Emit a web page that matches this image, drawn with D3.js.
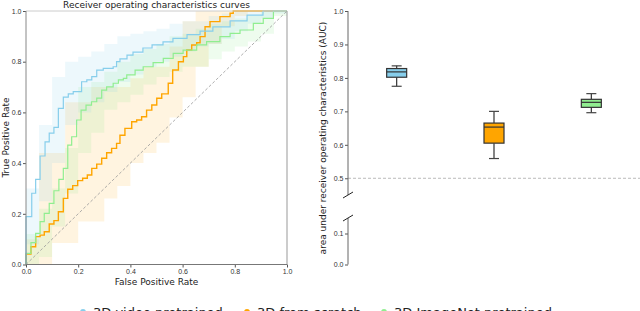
<!doctype html>
<html lang="en">
<head>
    <meta charset="UTF-8">
    <title>roc-auc</title>
    <style>
        body { margin: 0; background: #fff; }
        svg { font-family: "DejaVu Sans", sans-serif; }
        .tick text { font-size: 7px; fill: #333; }
        .tick line { stroke: #555; }
        .lbl { font-size: 9px; fill: #222; }
    </style>
</head>
<body>
<svg width="640" height="311"></svg>

<script src="https://d3js.org/d3.v7.min.js"></script>
<script>
  // ---- ROC mean curves (fpr, tpr), step after each point
  const blueFpr = [0, 0, 0.022, 0.037, 0.054, 0.073, 0.089, 0.107, 0.124, 0.143, 0.162, 0.181, 0.213, 0.233, 0.252, 0.271, 0.296, 0.334, 0.347, 0.360, 0.387, 0.410, 0.448, 0.483, 0.525, 0.563, 0.617, 0.667, 0.716, 0.782, 0.847, 0.908, 1.0]
  const blueTpr = [0, 0.189, 0.281, 0.336, 0.428, 0.484, 0.518, 0.541, 0.616, 0.660, 0.673, 0.682, 0.721, 0.728, 0.741, 0.767, 0.774, 0.780, 0.800, 0.811, 0.826, 0.838, 0.854, 0.866, 0.878, 0.892, 0.907, 0.921, 0.937, 0.961, 0.984, 1.0, 1.0]

  const greenFpr = [0, 0, 0.019, 0.037, 0.054, 0.070, 0.089, 0.107, 0.126, 0.143, 0.160, 0.175, 0.194, 0.211, 0.230, 0.251, 0.271, 0.290, 0.309, 0.334, 0.354, 0.373, 0.386, 0.418, 0.449, 0.487, 0.526, 0.564, 0.602, 0.654, 0.692, 0.743, 0.782, 0.820, 0.871, 0.909, 0.948, 1.0]
  const greenTpr = [0, 0.044, 0.086, 0.123, 0.169, 0.202, 0.241, 0.291, 0.336, 0.379, 0.471, 0.504, 0.570, 0.609, 0.629, 0.642, 0.656, 0.688, 0.701, 0.715, 0.728, 0.734, 0.748, 0.767, 0.780, 0.796, 0.813, 0.833, 0.846, 0.866, 0.879, 0.899, 0.912, 0.925, 0.951, 0.971, 1.0, 1.0]

  const orangeFpr = [0, 0, 0.019, 0.037, 0.054, 0.070, 0.089, 0.107, 0.124, 0.143, 0.160, 0.179, 0.198, 0.217, 0.235, 0.252, 0.271, 0.290, 0.309, 0.328, 0.347, 0.360, 0.379, 0.405, 0.424, 0.443, 0.462, 0.482, 0.501, 0.520, 0.545, 0.562, 0.584, 0.603, 0.616, 0.635, 0.654, 0.667, 0.686, 0.705, 0.743, 0.782, 0.794, 1.0]
  const orangeTpr = [0, 0.041, 0.070, 0.110, 0.116, 0.129, 0.160, 0.173, 0.208, 0.261, 0.297, 0.311, 0.331, 0.340, 0.353, 0.379, 0.396, 0.419, 0.441, 0.458, 0.478, 0.510, 0.537, 0.563, 0.570, 0.583, 0.609, 0.629, 0.656, 0.673, 0.715, 0.767, 0.800, 0.820, 0.846, 0.866, 0.875, 0.899, 0.938, 0.958, 0.978, 0.991, 1.0, 1.0]

  // ---- std bands on a coarse fpr grid
  const bandFpr = [0, 0.05, 0.10, 0.15, 0.20, 0.25, 0.30, 0.35, 0.40, 0.45, 0.50, 0.55, 0.60, 0.65, 0.70, 0.75, 0.80, 0.85, 0.90, 0.95, 1.0]
  const blueLo = [0.08, 0.25, 0.40, 0.55, 0.60, 0.64, 0.68, 0.72, 0.75, 0.78, 0.80, 0.82, 0.84, 0.86, 0.87, 0.89, 0.92, 0.95, 0.97, 0.99, 1.0]
  const blueHi = [0.30, 0.55, 0.74, 0.80, 0.82, 0.84, 0.87, 0.90, 0.91, 0.92, 0.93, 0.95, 0.96, 0.96, 0.98, 0.99, 1.0, 1.0, 1.0, 1.0, 1.0]
  const greenLo = [0.0, 0.03, 0.15, 0.28, 0.44, 0.52, 0.61, 0.64, 0.67, 0.71, 0.74, 0.76, 0.78, 0.78, 0.81, 0.84, 0.86, 0.88, 0.91, 0.98, 1.0]
  const greenHi = [0.12, 0.22, 0.30, 0.46, 0.70, 0.72, 0.76, 0.80, 0.83, 0.85, 0.87, 0.90, 0.91, 0.93, 0.95, 0.96, 0.97, 0.98, 1.0, 1.0, 1.0]
  const orangeLo = [0.0, 0.0, 0.085, 0.085, 0.17, 0.17, 0.26, 0.31, 0.40, 0.44, 0.48, 0.58, 0.66, 0.78, 0.87, 0.94, 0.98, 1.0, 1.0, 1.0, 1.0]
  const orangeHi = [0.10, 0.44, 0.44, 0.64, 0.64, 0.70, 0.70, 0.70, 0.735, 0.78, 0.78, 0.86, 0.96, 1.0, 1.0, 1.0, 1.0, 1.0, 1.0, 1.0, 1.0]

  // ---- AUC box stats: whisker low, q1, median, q3, whisker high
  const models = ['3D video pretrained', '3D from scratch', '3D ImageNet pretrained']
  const colors = ['#87ceeb', '#ffa500', '#90ee90']
  const whiskLo = [0.775, 0.559, 0.696]
  const q1 = [0.802, 0.605, 0.712]
  const median = [0.818, 0.653, 0.727]
  const q3 = [0.828, 0.665, 0.736]
  const whiskHi = [0.836, 0.700, 0.753]

  const svg = d3.select('svg')

  // ================= left: ROC =================
  const x = d3.scaleLinear().domain([0, 1]).range([26, 287])
  const y = d3.scaleLinear().domain([0, 1]).range([264.5, 11])
  const ticks = [0, 0.2, 0.4, 0.6, 0.8, 1.0]

  const left = svg.append('g')

  const area = d3.area()
    .curve(d3.curveStepAfter)
    .x(d => x(d[0])).y0(d => y(d[1])).y1(d => y(d[2]))
  const bands = [
    [orangeLo, orangeHi, colors[1], 0.12],
    [greenLo, greenHi, colors[2], 0.15],
    [blueLo, blueHi, colors[0], 0.15]
  ]
  bands.forEach(([lo, hi, c, a]) => {
    left.append('path')
      .datum(bandFpr.map((f, i) => [f, lo[i], hi[i]]))
      .attr('d', area)
      .attr('fill', c)
      .attr('fill-opacity', a)
  })

  left.append('line')
    .attr('x1', x(0)).attr('y1', y(0)).attr('x2', x(1)).attr('y2', y(1))
    .attr('stroke', '#999').attr('stroke-width', 0.8).attr('stroke-dasharray', '3,2')

  const line = d3.line().curve(d3.curveStepAfter).x(d => x(d[0])).y(d => y(d[1]))
  const curves = [
    [orangeFpr, orangeTpr, colors[1], 1.4],
    [greenFpr, greenTpr, colors[2], 1.2],
    [blueFpr, blueTpr, colors[0], 1.2]
  ]
  curves.forEach(([fx, ty, c, w]) => {
    left.append('path')
      .datum(fx.map((f, i) => [f, ty[i]]))
      .attr('d', line)
      .attr('fill', 'none')
      .attr('stroke', c)
      .attr('stroke-width', w)
  })

  left.append('g')
    .attr('transform', 'translate(0,264.5)')
    .call(d3.axisBottom(x).tickValues(ticks).tickFormat(d3.format('.1f')).tickSize(3).tickSizeOuter(0).tickPadding(1.5))
    .call(g => g.select('.domain').remove())
  left.append('g')
    .attr('transform', 'translate(26,0)')
    .call(d3.axisLeft(y).tickValues(ticks).tickFormat(d3.format('.1f')).tickSize(3).tickSizeOuter(0).tickPadding(1.5))
    .call(g => g.select('.domain').remove())

  // frame
  left.append('line').attr('x1', 26).attr('x2', 287).attr('y1', 11).attr('y2', 11).attr('stroke', '#ccc')
  left.append('line').attr('x1', 287).attr('x2', 287).attr('y1', 11).attr('y2', 264.5).attr('stroke', '#999')
  left.append('line').attr('x1', 26).attr('x2', 287).attr('y1', 264.5).attr('y2', 264.5).attr('stroke', '#777')
  left.append('line').attr('x1', 26).attr('x2', 26).attr('y1', 11).attr('y2', 264.5).attr('stroke', '#888')

  left.append('text').attr('class', 'lbl')
    .attr('x', 156.5).attr('y', 8).attr('text-anchor', 'middle')
    .text('Receiver operating characteristics curves')
  left.append('text').attr('class', 'lbl')
    .attr('x', 156.5).attr('y', 285).attr('text-anchor', 'middle')
    .text('False Positive Rate')
  left.append('text').attr('class', 'lbl')
    .attr('transform', 'translate(8.5,137.5) rotate(-90)').attr('text-anchor', 'middle')
    .text('True Positive Rate')

  // ================= right: AUC boxes (broken axis) =================
  const bx = d3.scaleLinear().domain([0.5, 3.5]).range([348, 640])
  const yUp = d3.scaleLinear().domain([0.45, 1.0]).range([195, 11])
  const yLow = d3.scaleLinear().domain([0, 0.15]).range([264.5, 218])

  const right = svg.append('g')

  right.append('line')
    .attr('x1', 348).attr('x2', 640).attr('y1', yUp(0.5)).attr('y2', yUp(0.5))
    .attr('stroke', '#aaa').attr('stroke-width', 0.8).attr('stroke-dasharray', '3,2')

  right.append('g')
    .attr('transform', 'translate(348,0)')
    .call(d3.axisLeft(yUp).tickValues([0.5, 0.6, 0.7, 0.8, 0.9, 1.0]).tickFormat(d3.format('.1f')).tickSize(3).tickSizeOuter(0).tickPadding(1.5))
    .call(g => g.select('.domain').remove())
  right.append('g')
    .attr('transform', 'translate(348,0)')
    .call(d3.axisLeft(yLow).tickValues([0, 0.1]).tickFormat(d3.format('.1f')).tickSize(3).tickSizeOuter(0).tickPadding(1.5))
    .call(g => g.select('.domain').remove())

  right.append('line').attr('x1', 348).attr('x2', 348).attr('y1', yUp(1.0)).attr('y2', yUp(0.45)).attr('stroke', '#666')
  right.append('line').attr('x1', 348).attr('x2', 348).attr('y1', yLow(0.15)).attr('y2', yLow(0)).attr('stroke', '#666')
  // break marks
  ;[yUp(0.45), yLow(0.15)].forEach(yy => {
    right.append('line')
      .attr('x1', 343).attr('y1', yy + 3).attr('x2', 353).attr('y2', yy - 3)
      .attr('stroke', '#222').attr('stroke-width', 1)
  })

  const bw = 10
  models.forEach((m, i) => {
    const cx = bx(i + 1)
    const g = right.append('g')
    g.append('line').attr('x1', cx).attr('x2', cx).attr('y1', yUp(whiskLo[i])).attr('y2', yUp(q1[i])).attr('stroke', '#333').attr('stroke-width', 1.2)
    g.append('line').attr('x1', cx).attr('x2', cx).attr('y1', yUp(q3[i])).attr('y2', yUp(whiskHi[i])).attr('stroke', '#333').attr('stroke-width', 1.2)
    ;[whiskLo[i], whiskHi[i]].forEach(v => {
      g.append('line').attr('x1', cx - 5).attr('x2', cx + 5).attr('y1', yUp(v)).attr('y2', yUp(v)).attr('stroke', '#444').attr('stroke-width', 1.2)
    })
    g.append('rect')
      .attr('x', cx - bw).attr('width', 2 * bw)
      .attr('y', yUp(q3[i])).attr('height', yUp(q1[i]) - yUp(q3[i]))
      .attr('fill', colors[i]).attr('stroke', '#333').attr('stroke-width', 1.2)
    g.append('line').attr('x1', cx - bw).attr('x2', cx + bw).attr('y1', yUp(median[i])).attr('y2', yUp(median[i])).attr('stroke', '#333').attr('stroke-width', 1.2)
  })

  right.append('text').attr('class', 'lbl')
    .attr('transform', 'translate(326,138) rotate(-90)').attr('text-anchor', 'middle')
    .text('area under receiver operating characteristics (AUC)')

  // ================= legend (mostly below the frame) =================
  const legX = [83, 247, 384]
  models.forEach((m, i) => {
    svg.append('circle').attr('cx', legX[i]).attr('cy', 312).attr('r', 3).attr('fill', colors[i])
    svg.append('text').attr('x', legX[i] + 10).attr('y', 317)
      .attr('font-size', 13).attr('fill', '#222').text(m)
  })
</script>
</body>
</html>
